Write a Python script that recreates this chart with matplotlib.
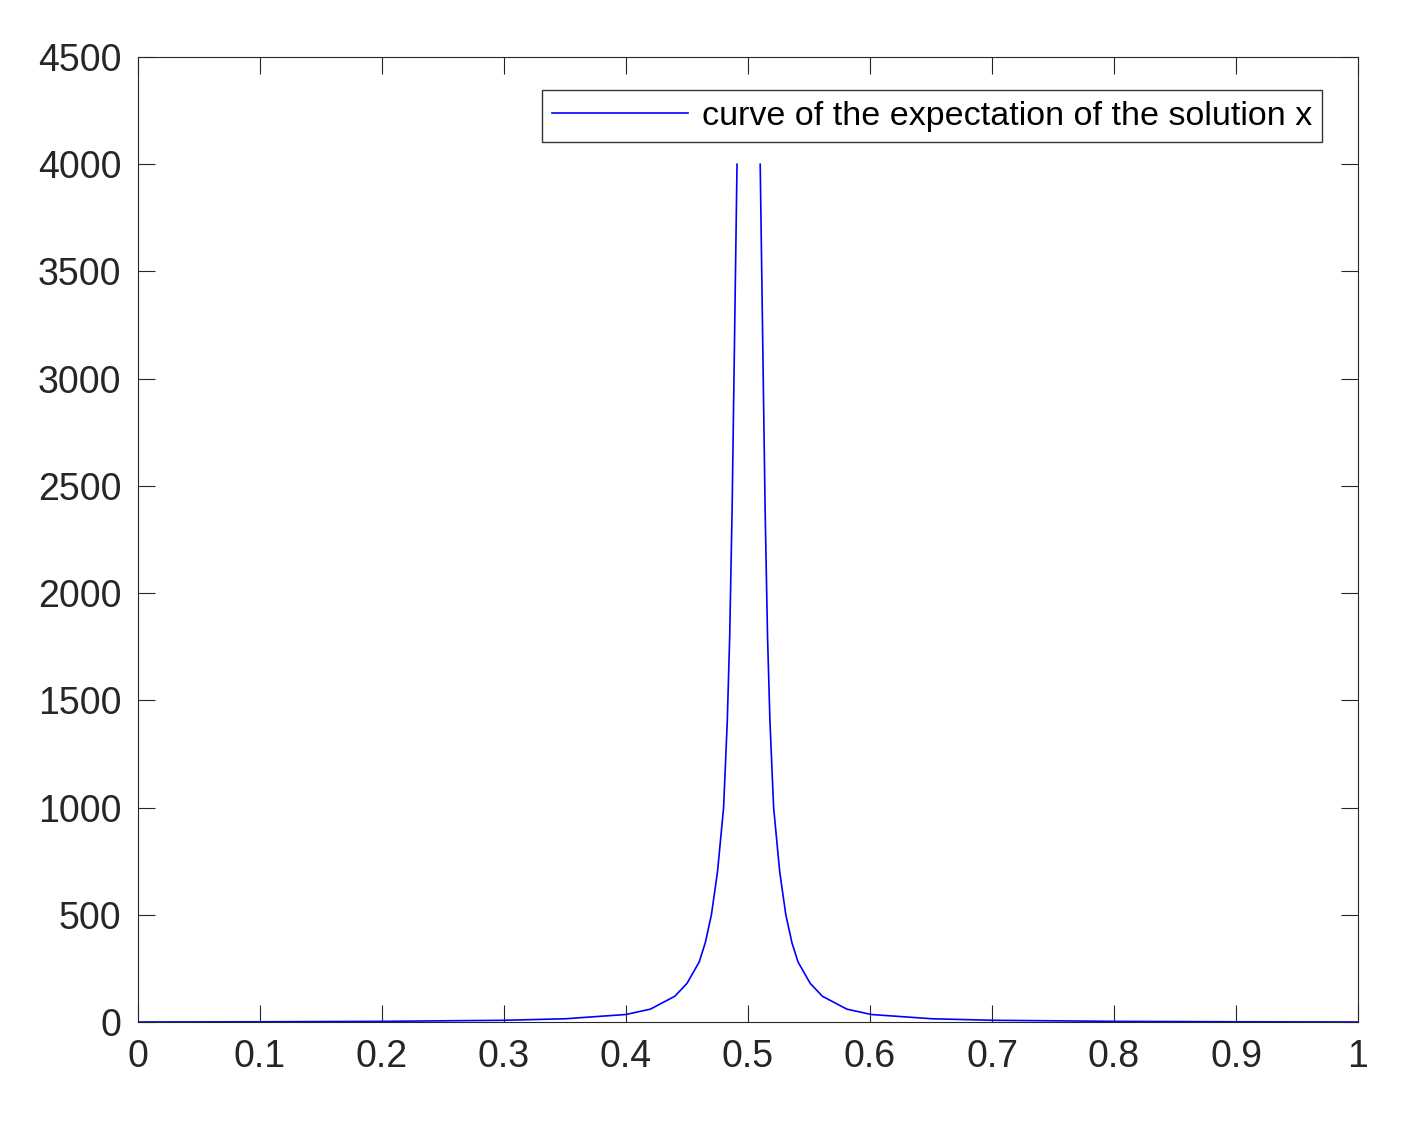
import numpy as np
import matplotlib
matplotlib.use('Agg')
import matplotlib.pyplot as plt

#=== Data ===#
x_left = [0.0, 0.1, 0.2, 0.3, 0.35, 0.4, 0.42, 0.44, 0.45, 0.46, 0.465, 0.47, 0.475, 0.48, 0.483, 0.485, 0.487, 0.489, 0.491]
y_left = [0, 1, 3, 8, 15, 35, 60, 120, 180, 280, 370, 500, 700, 1000, 1400, 1800, 2400, 3200, 4000]
x_right = [0.510, 0.512, 0.514, 0.516, 0.518, 0.521, 0.526, 0.531, 0.536, 0.541, 0.551, 0.561, 0.581, 0.601, 0.651, 0.701, 0.801, 0.901, 1.0]
y_right = [4000, 3200, 2400, 1800, 1400, 1000, 700, 500, 370, 280, 180, 120, 60, 35, 15, 8, 3, 1, 0]

x_ticks = [0, 0.1, 0.2, 0.3, 0.4, 0.5, 0.6, 0.7, 0.8, 0.9, 1]
y_ticks = [0, 500, 1000, 1500, 2000, 2500, 3000, 3500, 4000, 4500]

plt.rcParams['font.family'] = ['Liberation Sans', 'DejaVu Sans']

fig = plt.figure(figsize=(14.08, 11.21), dpi=100)
ax = fig.add_axes([138/1408, 1-1022/1121, 1220/1408, 965/1121])

x_all = x_left + [np.nan] + x_right
y_all = y_left + [np.nan] + y_right
ax.plot(x_all, y_all, color='#0000ff', lw=1.2, label='curve of the expectation of the solution x')

ax.set_xlim(0, 1)
ax.set_ylim(0, 4500)
ax.set_xticks(x_ticks)
ax.set_xticklabels([f'{t:g}' for t in x_ticks])
ax.set_yticks(y_ticks)
ax.tick_params(direction='in', top=True, right=True, labelsize=27, length=12, colors='#262626', pad=12)
for s in ax.spines.values():
    s.set_color('#262626')

leg = ax.legend(loc='upper right', fontsize=24.5, fancybox=False, edgecolor='black',
                bbox_to_anchor=(0.9705, 0.9655), borderaxespad=0, handlelength=4.0,
                handletextpad=0.4, borderpad=0.3)
leg.get_frame().set_linewidth(1.0)

fig.savefig('out.png', dpi=100)
